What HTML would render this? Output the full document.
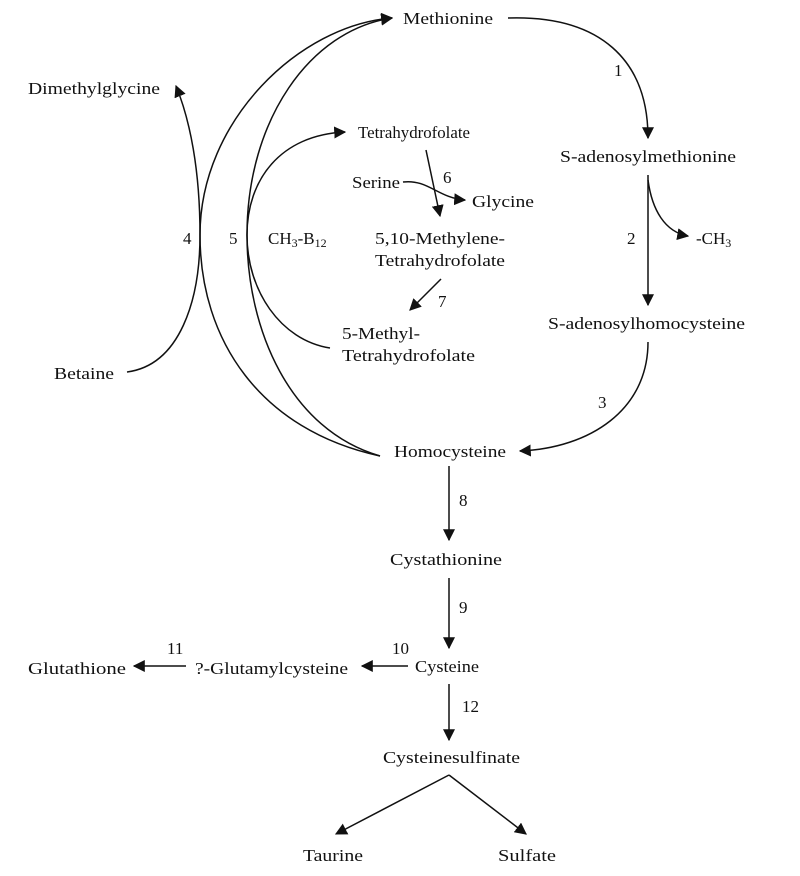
<!DOCTYPE html>
<html><head><meta charset="utf-8"><style>
html,body{margin:0;padding:0;background:#fff;}
svg{display:block;}
text{font-family:"Liberation Serif",serif;font-size:17px;fill:#111;}
</style></head><body>
<svg width="800" height="876" viewBox="0 0 800 876" xmlns="http://www.w3.org/2000/svg">
<defs>
<marker id="a" viewBox="0 0 10 10" refX="9" refY="5" markerWidth="12" markerHeight="12" markerUnits="userSpaceOnUse" orient="auto">
<path d="M0,0 L10,5 L0,10 z" fill="#111"/></marker>
</defs>
<g fill="none" stroke="#111" stroke-width="1.5">
<path d="M508,18 C600,15 648,60 648,138" marker-end="url(#a)"/>
<path d="M648,175 L648,305" marker-end="url(#a)"/>
<path d="M648,180 C652,210 665,232 688,236" marker-end="url(#a)"/>
<path d="M648,342 C648,410 590,448 520,451" marker-end="url(#a)"/>
<path d="M380,456 C260,430 200,340 200,235 C200,120 300,25 392,18" marker-end="url(#a)"/>
<path d="M380,456 C290,430 247,330 247,235 C247,120 310,30 392,18" marker-end="url(#a)"/>
<path d="M330,348 C280,340 247,290 247,235 C247,180 280,135 345,132" marker-end="url(#a)"/>
<path d="M127,372 C180,365 200,300 200,235 C200,170 190,120 176,86" marker-end="url(#a)"/>
<path d="M426,150 L440,216" marker-end="url(#a)"/>
<path d="M403,182 C428,179 438,198 465,200" marker-end="url(#a)"/>
<path d="M441,279 L410,310" marker-end="url(#a)"/>
<path d="M449,466 L449,540" marker-end="url(#a)"/>
<path d="M449,578 L449,648" marker-end="url(#a)"/>
<path d="M408,666 L362,666" marker-end="url(#a)"/>
<path d="M186,666 L134,666" marker-end="url(#a)"/>
<path d="M449,684 L449,740" marker-end="url(#a)"/>
<path d="M449,775 L336,834" marker-end="url(#a)"/>
<path d="M449,775 L526,834" marker-end="url(#a)"/>
</g>
<g>
<text x="403" y="24" textLength="90" lengthAdjust="spacingAndGlyphs">Methionine</text>
<text x="28" y="94" textLength="132" lengthAdjust="spacingAndGlyphs">Dimethylglycine</text>
<text x="358" y="138" textLength="112" lengthAdjust="spacingAndGlyphs">Tetrahydrofolate</text>
<text x="560" y="162" textLength="176" lengthAdjust="spacingAndGlyphs">S-adenosylmethionine</text>
<text x="614" y="76">1</text>
<text x="352" y="188" textLength="48" lengthAdjust="spacingAndGlyphs">Serine</text>
<text x="443" y="183">6</text>
<text x="472" y="207" textLength="62" lengthAdjust="spacingAndGlyphs">Glycine</text>
<text x="183" y="244">4</text>
<text x="229" y="244">5</text>
<text x="268" y="244">CH<tspan font-size="12" dy="3">3</tspan><tspan dy="-3">-B</tspan><tspan font-size="12" dy="3">12</tspan></text>
<text x="375" y="244" textLength="130" lengthAdjust="spacingAndGlyphs">5,10-Methylene-</text>
<text x="375" y="266" textLength="130" lengthAdjust="spacingAndGlyphs">Tetrahydrofolate</text>
<text x="627" y="244">2</text>
<text x="696" y="244">-CH<tspan font-size="12" dy="3">3</tspan></text>
<text x="438" y="307">7</text>
<text x="342" y="339" textLength="78" lengthAdjust="spacingAndGlyphs">5-Methyl-</text>
<text x="342" y="361" textLength="133" lengthAdjust="spacingAndGlyphs">Tetrahydrofolate</text>
<text x="548" y="329" textLength="197" lengthAdjust="spacingAndGlyphs">S-adenosylhomocysteine</text>
<text x="54" y="379" textLength="60" lengthAdjust="spacingAndGlyphs">Betaine</text>
<text x="598" y="408">3</text>
<text x="394" y="457" textLength="112" lengthAdjust="spacingAndGlyphs">Homocysteine</text>
<text x="459" y="506">8</text>
<text x="390" y="565" textLength="112" lengthAdjust="spacingAndGlyphs">Cystathionine</text>
<text x="459" y="613">9</text>
<text x="415" y="672" textLength="64" lengthAdjust="spacingAndGlyphs">Cysteine</text>
<text x="392" y="654">10</text>
<text x="195" y="674" textLength="153" lengthAdjust="spacingAndGlyphs">?-Glutamylcysteine</text>
<text x="167" y="654">11</text>
<text x="28" y="674" textLength="98" lengthAdjust="spacingAndGlyphs">Glutathione</text>
<text x="462" y="712">12</text>
<text x="383" y="763" textLength="137" lengthAdjust="spacingAndGlyphs">Cysteinesulfinate</text>
<text x="303" y="861" textLength="60" lengthAdjust="spacingAndGlyphs">Taurine</text>
<text x="498" y="861" textLength="58" lengthAdjust="spacingAndGlyphs">Sulfate</text>
</g>
</svg>
</body></html>
